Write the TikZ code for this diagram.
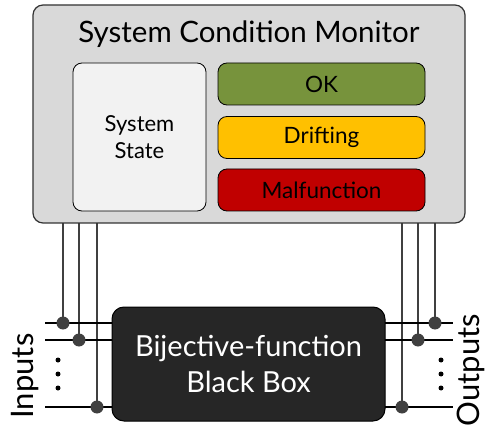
\documentclass[tikz,border=0pt]{standalone}
\usepackage{fontspec}
\setmainfont{Lato}
\definecolor{monitorgray}{HTML}{D9D9D9}
\definecolor{stategray}{HTML}{F2F2F2}
\definecolor{okgreen}{HTML}{77933C}
\definecolor{driftyellow}{HTML}{FFC000}
\definecolor{malfred}{HTML}{C00000}
\definecolor{boxblack}{HTML}{262626}
\definecolor{wiregray}{HTML}{404040}
\begin{document}
\begin{tikzpicture}%
	[x=1pt,
	y=-1pt,
	monitor/.style={draw=black!80, line width=1.2pt, fill=monitorgray, rounded corners=10pt},
	statebox/.style={draw=black, line width=0.8pt, fill=stategray, rounded corners=9pt, align=center, font=\fontsize{22}{27}\selectfont},
	flag/.style={draw=black, line width=0.8pt, rounded corners=9pt, minimum width=207pt, minimum height=42pt, font=\fontsize{22.5}{27}\selectfont},
	blackbox/.style={draw=black, line width=1pt, fill=boxblack, rounded corners=12pt, text=white, align=center, font=\fontsize{29}{36}\selectfont},
	bus/.style={draw=black, line width=2.6pt},
	wire/.style={draw=wiregray, line width=2.6pt},
	tap/.style={circle, fill=wiregray, inner sep=0pt, minimum size=13pt},
	dot/.style={circle, fill=black, inner sep=0pt, minimum size=5pt},
	side/.style={font=\fontsize{31}{36}\selectfont, rotate=90, anchor=base, inner sep=0pt}]
%
\useasboundingbox (0,0) rectangle (485,425);
%%
%% Coordinates of the taps
%%
\coordinate (in1) at (63,323);
\coordinate (in2) at (79,340);
\coordinate (in3) at (97,407);
\coordinate (out1) at (435,323);
\coordinate (out2) at (418,340);
\coordinate (out3) at (402,407);
\coordinate (inend) at (45,0);
\coordinate (outend) at (453,0);
%%
%%
%% Drawing the wires in the back
%%
\draw[wire] (in1) -- (in1 |- 0,200);
\draw[wire] (in2) -- (in2 |- 0,200);
\draw[wire] (in3) -- (in3 |- 0,200);
\draw[wire] (out1) -- (out1 |- 0,200);
\draw[wire] (out2) -- (out2 |- 0,200);
\draw[wire] (out3) -- (out3 |- 0,200);
\draw[bus] (inend |- in1) -- (248,323);
\draw[bus] (inend |- in2) -- (248,340);
\draw[bus] (inend |- in3) -- (248,407);
\draw[bus] (248,323) -- (outend |- out1);
\draw[bus] (248,340) -- (outend |- out2);
\draw[bus] (248,407) -- (outend |- out3);
%%
%%
%% Drawing the boxes
%%
\node[monitor, minimum width=432pt, minimum height=218pt] (monitor) at (249,114) {};
\node[font=\fontsize{29.5}{34}\selectfont] (title) at (249,34) {System Condition Monitor};
\node[statebox, minimum width=133pt, minimum height=148pt] (state) at (139.5,137) {System\\State};
\node[flag, fill=okgreen] (ok) at (321.5,84) {OK};
\node[flag, fill=driftyellow] (drift) at (321.5,137.5) {Drifting};
\node[flag, fill=malfred] (malf) at (321.5,190) {Malfunction};
\node[blackbox, minimum width=273pt, minimum height=114pt] (bb) at (248.5,364) {Bijective-function\\Black Box};
%%
%%
%% Drawing the taps in the front
%%
\node[tap] (tapin1) at (in1) {};
\node[tap] (tapin2) at (in2) {};
\node[tap] (tapin3) at (in3) {};
\node[tap] (tapout1) at (out1) {};
\node[tap] (tapout2) at (out2) {};
\node[tap] (tapout3) at (out3) {};
%%
%% Ellipses
\node[dot] (indot1) at (58,360) {};
\node[dot] (indot2) at (58,374) {};
\node[dot] (indot3) at (58,388) {};
\node[dot] (outdot1) at (441,360) {};
\node[dot] (outdot2) at (441,374) {};
\node[dot] (outdot3) at (441,388) {};
%%
%% Labels
\node[side] (inputs) at (33,376) {Inputs};
\node[side] (outputs) at (479,370) {Outputs};
%
\end{tikzpicture}
\end{document}
